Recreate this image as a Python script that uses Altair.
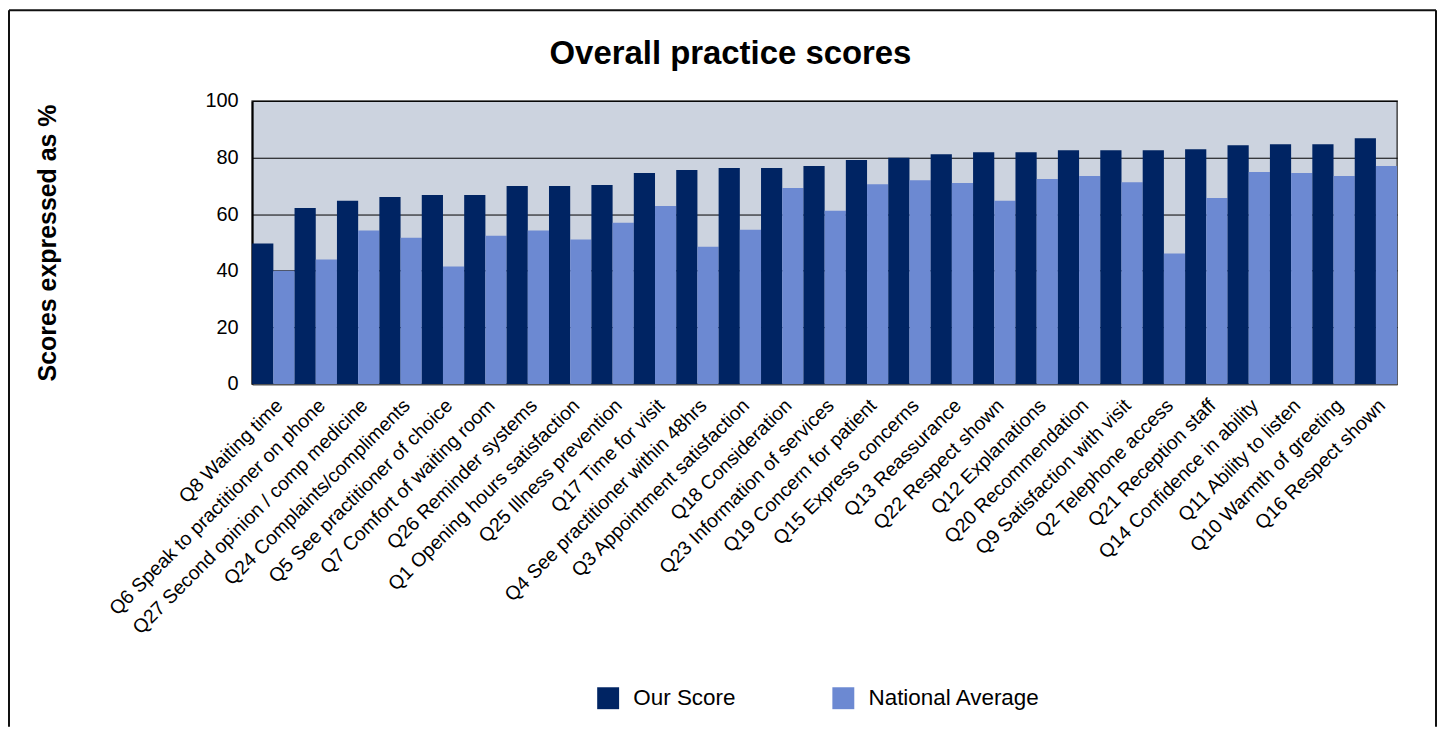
import altair as alt
import pandas as pd

FONT = "Liberation Sans, Arial, sans-serif"

chart_title = "Overall practice scores"
y_title = "Scores expressed as %"

questions = [
    "Q8 Waiting time",
    "Q6 Speak to practitioner on phone",
    "Q27 Second opinion / comp medicine",
    "Q24 Complaints/compliments",
    "Q5 See practitioner of choice",
    "Q7 Comfort of waiting room",
    "Q26 Reminder systems",
    "Q1 Opening hours satisfaction",
    "Q25 Illness prevention",
    "Q17 Time for visit",
    "Q4 See practitioner within 48hrs",
    "Q3 Appointment satisfaction",
    "Q18 Consideration",
    "Q23 Information of services",
    "Q19 Concern for patient",
    "Q15 Express concerns",
    "Q13 Reassurance",
    "Q22 Respect shown",
    "Q12 Explanations",
    "Q20 Recommendation",
    "Q9 Satisfaction with visit",
    "Q2 Telephone access",
    "Q21 Reception staff",
    "Q14 Confidence in ability",
    "Q11 Ability to listen",
    "Q10 Warmth of greeting",
    "Q16 Respect shown",
]

our_score = [49.6, 62.2, 64.7, 66.1, 66.8, 66.8, 69.9, 69.9, 70.3, 74.5,
             75.6, 76.3, 76.3, 77.0, 79.1, 79.9, 81.2, 81.9, 81.9, 82.6,
             82.6, 82.6, 82.9, 84.3, 84.7, 84.7, 86.8]
national_avg = [40.0, 44.0, 54.2, 51.7, 41.5, 52.4, 54.2, 51.0, 57.0, 62.9,
                48.5, 54.5, 69.2, 61.2, 70.6, 72.0, 71.0, 64.7, 72.4, 73.5,
                71.3, 46.1, 65.7, 74.9, 74.5, 73.5, 77.0]

series_names = ["Our Score", "National Average"]
series_colors = ["#002463", "#6C89D2"]
y_ticks = [0, 20, 40, 60, 80, 100]

rows = []
for q, a, b in zip(questions, our_score, national_avg):
    rows.append({"Question": q, "Series": series_names[0], "Value": a})
    rows.append({"Question": q, "Series": series_names[1], "Value": b})
df = pd.DataFrame(rows)

PW, PH = 1149, 284

bars = alt.Chart(df).mark_bar().encode(
    x=alt.X(
        "Question:N",
        sort=questions,
        scale=alt.Scale(paddingInner=0, paddingOuter=0),
        axis=alt.Axis(
            title=None, labelAngle=-45, labelAlign="right", labelBaseline="top",
            labelFontSize=19.5, labelPadding=12, ticks=False, domainColor="#555",
            domainWidth=2, labelColor="#000", labelLimit=0, grid=False, zindex=0,
            labelFont=FONT,
        ),
    ),
    xOffset=alt.XOffset(
        "Series:N",
        scale=alt.Scale(domain=series_names, paddingInner=0, paddingOuter=0),
    ),
    y=alt.Y(
        "Value:Q",
        scale=alt.Scale(domain=[0, 100], nice=False),
        axis=alt.Axis(
            title=y_title, values=y_ticks, labelFontSize=20, labelPadding=14,
            ticks=False, domainColor="#000", domainWidth=2, labelColor="#000",
            grid=True, gridColor="#000", gridWidth=1, zindex=0,
            titleFontSize=25, titleFontWeight="bold", titleColor="#000",
            titlePadding=145, labelFont=FONT, titleFont=FONT,
        ),
    ),
    color=alt.Color(
        "Series:N",
        scale=alt.Scale(domain=series_names, range=series_colors),
        legend=alt.Legend(
            title=None, orient="none", legendX=346, legendY=588,
            direction="horizontal", symbolType="square", symbolSize=484,
            symbolStrokeWidth=0, symbolOpacity=1, labelFontSize=22.5,
            labelFont=FONT, labelOffset=14, columnPadding=96, labelLimit=0,
            labelColor="#000", padding=0,
        ),
    ),
)

title_df = pd.DataFrame({"t": [chart_title]})
title = alt.Chart(title_df).mark_text(
    fontSize=33, fontWeight="bold", font=FONT, align="center",
    baseline="alphabetic", color="#000",
).encode(text="t:N", x=alt.value(480), y=alt.value(-37))

frame_df = pd.DataFrame({"k": [0]})
frame_top = alt.Chart(frame_df).mark_rule(color="#111", strokeWidth=2).encode(
    x=alt.value(-244), x2=alt.value(1188), y=alt.value(-91))
frame_left = alt.Chart(frame_df).mark_rule(color="#111", strokeWidth=2).encode(
    x=alt.value(-244), y=alt.value(-91), y2=alt.value(628))
frame_right = alt.Chart(frame_df).mark_rule(color="#111", strokeWidth=2).encode(
    x=alt.value(1188), y=alt.value(-91), y2=alt.value(628))

chart = alt.layer(bars, title, frame_top, frame_left, frame_right).properties(
    width=PW, height=PH, padding=0, background="#ffffff"
).configure_view(fill="#CCD3DF", stroke="#444", strokeWidth=1.5)

chart.save("out.html", embed_options={"renderer": "svg", "actions": False})
